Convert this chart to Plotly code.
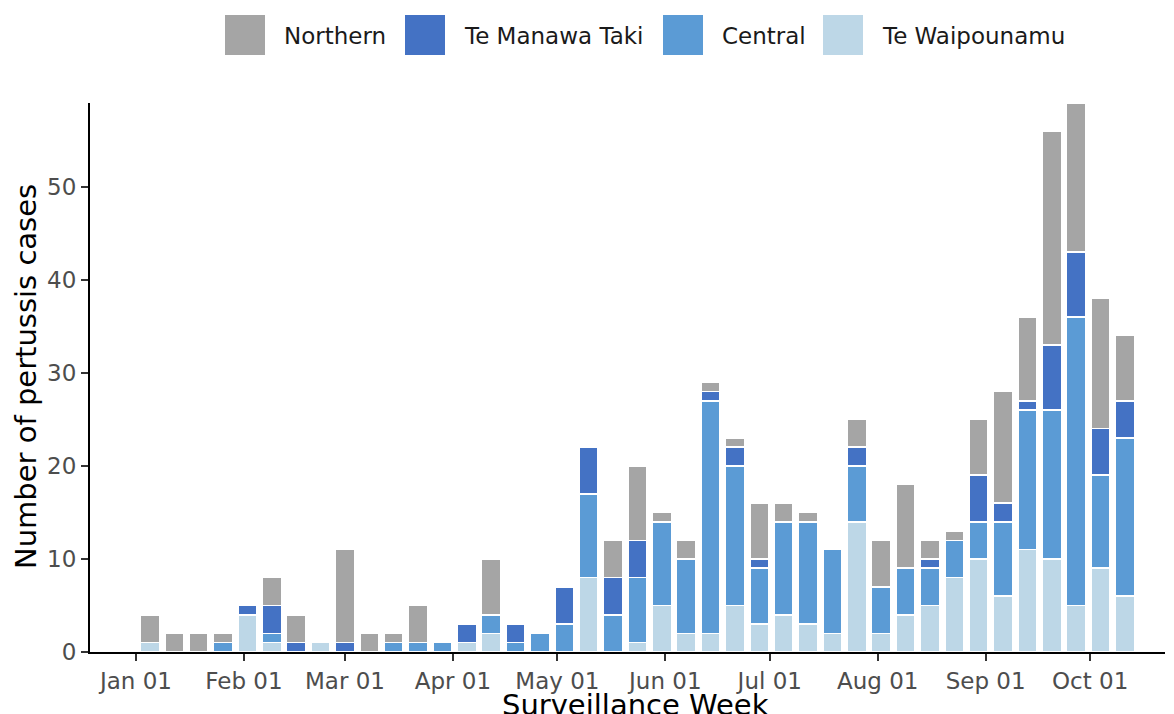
import plotly.graph_objects as go
import pandas as pd

# ---- data (weekly counts) ----
week_start = "2024-01-05"
n_weeks = 41
regions = ["Te Waipounamu", "Central", "Te Manawa Taki", "Northern"]  # bottom -> top
te_waipounamu = [1,0,0,0,4,1,0,1,0,0,0,0,0,1,2,0,0,0,8,0,1,5,2,2,5,3,4,3,2,14,2,4,5,8,10,6,11,10,5,9,6]
central       = [0,0,0,1,0,1,0,0,0,0,1,1,1,0,2,1,2,3,9,4,7,9,8,25,15,6,10,11,9,6,5,5,4,4,4,8,15,16,31,10,17]
te_manawa_taki= [0,0,0,0,1,3,1,0,1,0,0,0,0,2,0,2,0,4,5,4,4,0,0,1,2,1,0,0,0,2,0,0,1,0,5,2,1,7,7,5,4]
northern      = [3,2,2,1,0,3,3,0,10,2,1,4,0,0,6,0,0,0,0,4,8,1,2,1,1,6,2,1,0,3,5,9,2,1,6,12,9,23,16,14,7]
colors = {"Northern": "#A5A5A5", "Te Manawa Taki": "#4472C4",
          "Central": "#5B9BD5", "Te Waipounamu": "#BDD7E7"}
tick_dates = ["2024-01-01","2024-02-01","2024-03-01","2024-04-01","2024-05-01",
              "2024-06-01","2024-07-01","2024-08-01","2024-09-01","2024-10-01"]
y_ticks = [0, 10, 20, 30, 40, 50]

series = {"Te Waipounamu": te_waipounamu, "Central": central,
          "Te Manawa Taki": te_manawa_taki, "Northern": northern}
weeks = pd.date_range(week_start, periods=n_weeks, freq="7D")

DAY = 86400000
fig = go.Figure()
for r in regions:
    vals = series[r]
    fig.add_trace(go.Bar(
        x=weeks, y=[v if v else None for v in vals], name=r,
        width=[5.5 * DAY] * n_weeks,
        marker=dict(color=colors[r], line=dict(color="white", width=1.6)),
    ))

# page is rendered with an 8px body margin, so the figure is shrunk by 8px
OFF = 8
W, H = 1174 - OFF, 714 - OFF
PL, PR, PT, PB = 90, 1165, 103, 652          # plot area in page pixels
L, T = PL - OFF, PT - OFF
R = W - (PR - OFF)
B = H - (PB - OFF)
pw, ph = PR - PL, PB - PT
def px(x):
    return (x - PL) / pw
def py(y):
    return (PB - y) / ph

font = "DejaVu Sans, Verdana, sans-serif"
fig.update_layout(
    barmode="stack", width=W, height=H,
    margin=dict(l=L, r=R, t=T, b=B, autoexpand=False),
    plot_bgcolor="white", paper_bgcolor="white", showlegend=False,
    font=dict(family=font, size=23, color="#4D4D4D"),
)
fig.update_xaxes(
    type="date", range=["2023-12-18 19:00", "2024-10-22 12:00"],
    tickvals=tick_dates, tickformat="%b %d",
    showline=True, linecolor="black", linewidth=2,
    ticks="outside", ticklen=7, tickwidth=1.5, tickcolor="#333333",
    showgrid=False, zeroline=False, tickfont=dict(size=23, color="#4D4D4D"),
)
fig.update_yaxes(
    range=[0, 59], tickvals=y_ticks,
    showline=True, linecolor="black", linewidth=2,
    ticks="outside", ticklen=7, tickwidth=1.5, tickcolor="#333333",
    showgrid=False, zeroline=False, tickfont=dict(size=23, color="#4D4D4D"),
)

# axis titles
fig.add_annotation(text="Surveillance Week", xref="paper", yref="paper",
                   x=px(635), y=py(686), xanchor="center", yanchor="top",
                   showarrow=False, font=dict(family=font, size=29, color="black"))
fig.add_annotation(text="Number of pertussis cases", xref="paper", yref="paper",
                   x=px(26), y=py(377), xanchor="center", yanchor="middle",
                   textangle=-90, showarrow=False,
                   font=dict(family=font, size=29, color="black"))

# legend (top, horizontal, large keys)
legend_order = ["Northern", "Te Manawa Taki", "Central", "Te Waipounamu"]
key_left = [225, 405, 663, 823]
for name, kx in zip(legend_order, key_left):
    fig.add_shape(type="rect", xref="paper", yref="paper",
                  x0=px(kx), x1=px(kx + 40), y0=py(55), y1=py(15),
                  fillcolor=colors[name], line=dict(width=0))
    fig.add_annotation(text=name, xref="paper", yref="paper",
                       x=px(kx + 57), y=py(36), xanchor="left", yanchor="middle",
                       showarrow=False, font=dict(family=font, size=23, color="#1A1A1A"))

fig.write_html("out.html")
